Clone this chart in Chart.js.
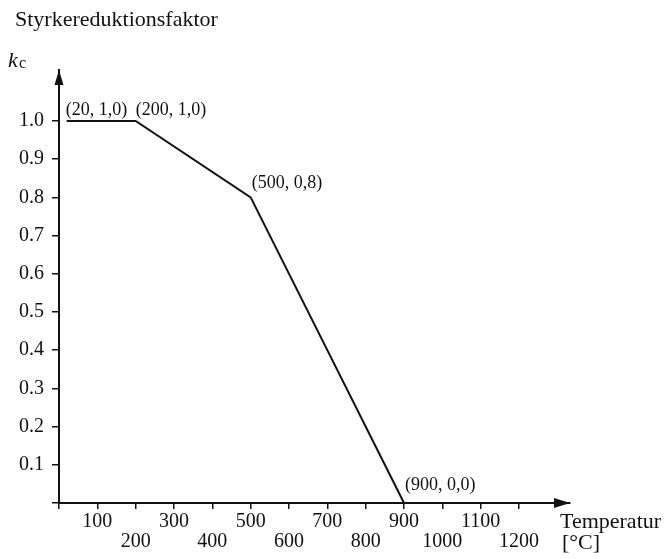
<!DOCTYPE html>
<html>
<head>
<meta charset="utf-8">
<script src="https://cdn.jsdelivr.net/npm/chart.js@4"></script>
<style>
  html, body { margin: 0; padding: 0; background: #fff; }
  #wrap { width: 665px; height: 559px; }
</style>
</head>
<body>
<div id="wrap"><canvas id="kc"></canvas></div>
<script>
// data
const temps = [20, 200, 500, 900];
const factors = [1.0, 1.0, 0.8, 0.0];
const xTicks = [0, 100, 200, 300, 400, 500, 600, 700, 800, 900, 1000, 1100, 1200];
const yTicks = [0, 0.1, 0.2, 0.3, 0.4, 0.5, 0.6, 0.7, 0.8, 0.9, 1.0];

// label nudges (px) relative to each point
const labelOffsets = [[-1, -11], [0, -11], [1, -14], [1, -18]];

const SERIF = "'Liberation Serif', 'DejaVu Serif', serif";
const INK = "#111";

const points = temps.map((t, i) => ({ x: t, y: factors[i] }));
const pointText = temps.map((t, i) => "(" + t + ", " + factors[i].toFixed(1).replace(".", ",") + ")");

const decorations = {
  id: "decorations",
  afterDraw(chart) {
    const { ctx, chartArea } = chart;
    const { left, right, top, bottom } = chartArea;
    ctx.save();
    ctx.fillStyle = INK;

    // arrow heads
    ctx.beginPath();
    ctx.moveTo(left, top);
    ctx.lineTo(left - 4.5, top + 15);
    ctx.lineTo(left + 4.5, top + 15);
    ctx.closePath();
    ctx.fill();
    ctx.beginPath();
    ctx.moveTo(right, bottom);
    ctx.lineTo(right - 16, bottom - 5);
    ctx.lineTo(right - 16, bottom + 5);
    ctx.closePath();
    ctx.fill();

    // point labels
    const meta = chart.getDatasetMeta(0);
    ctx.font = "18px " + SERIF;
    ctx.textAlign = "left";
    ctx.textBaseline = "middle";
    meta.data.forEach((pt, i) => {
      ctx.fillText(pointText[i], pt.x + labelOffsets[i][0], pt.y + labelOffsets[i][1]);
    });

    // axis titles
    ctx.font = "22px " + SERIF;
    ctx.fillText("Styrkereduktionsfaktor", 15, 20);
    ctx.fillText("Temperatur", right - 10, bottom + 19);
    ctx.fillText("[°C]", right - 8, bottom + 40);

    ctx.textBaseline = "alphabetic";
    ctx.font = "italic 22px " + SERIF;
    ctx.fillText("k", 8, 67);
    ctx.font = "16px " + SERIF;
    ctx.fillText("c", 19, 68);
    ctx.restore();
  }
};

new Chart(document.getElementById("kc"), {
  type: "line",
  data: {
    datasets: [{
      data: points,
      borderColor: INK,
      borderWidth: 2,
      pointRadius: 0,
      tension: 0,
      fill: false,
      clip: false
    }]
  },
  options: {
    responsive: true,
    maintainAspectRatio: false,
    animation: false,
    layout: { padding: { left: 0, top: 70, right: 95, bottom: 0 } },
    plugins: {
      legend: { display: false },
      tooltip: { enabled: false }
    },
    scales: {
      x: {
        type: "linear",
        min: 0,
        max: 1333,
        afterBuildTicks: s => { s.ticks = xTicks.map(v => ({ value: v })); },
        afterFit: s => { s.height = 56; },
        grid: { drawOnChartArea: false, color: INK, lineWidth: 1.5, tickLength: 6 },
        border: { color: INK, width: 2 },
        ticks: {
          color: INK,
          padding: 3,
          maxRotation: 0,
          autoSkip: false,
          font: { family: SERIF, size: 20, lineHeight: 1.0 },
          callback: v => v === 0 ? "" : ((v / 100) % 2 === 1 ? String(v) : ["", String(v)])
        }
      },
      y: {
        min: 0,
        max: 1.1335,
        afterBuildTicks: s => { s.ticks = yTicks.map(v => ({ value: v })); },
        afterFit: s => { s.width = 59; },
        grid: { drawOnChartArea: false, color: INK, lineWidth: 1.5, tickLength: 7 },
        border: { color: INK, width: 2 },
        ticks: {
          color: INK,
          padding: 8,
          autoSkip: false,
          font: { family: SERIF, size: 20 },
          callback: v => v === 0 ? "" : v.toFixed(1)
        }
      }
    }
  },
  plugins: [decorations]
});
</script>
</body>
</html>
